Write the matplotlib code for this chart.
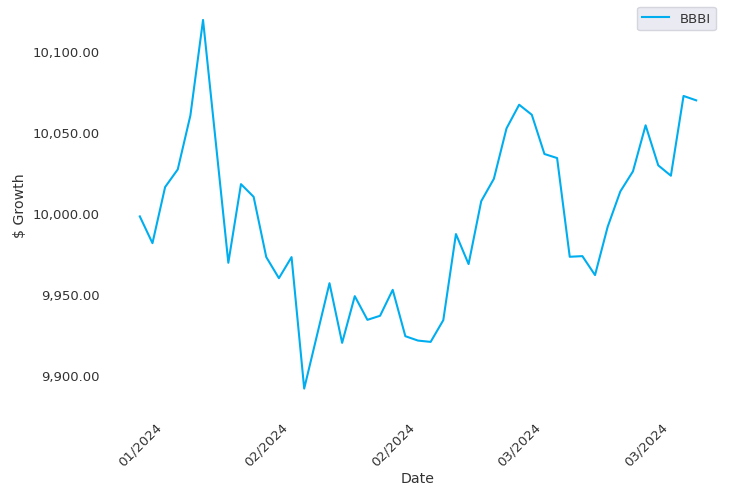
import matplotlib
matplotlib.use('Agg')
import matplotlib.pyplot as plt
import pandas as pd
from matplotlib.ticker import FuncFormatter

# trading days, Presidents Day dropped
dates = [d for d in pd.bdate_range('2024-01-18', '2024-03-21') if d != pd.Timestamp('2024-02-19')]

bbbi = [9998.0, 9981.5, 10016.1, 10027.0, 10060.3, 10119.2, 10044.3, 9969.4, 10017.9, 10010.1,
        9972.9, 9959.9, 9972.9, 9891.8, 9924.3, 9956.8, 9920.0, 9948.8, 9934.2, 9936.7,
        9952.7, 9924.1, 9921.4, 9920.6, 9934.0, 9987.1, 9968.6, 10007.4, 10021.2, 10052.3,
        10066.9, 10060.7, 10036.5, 10034.0, 9973.1, 9973.5, 9961.8, 9991.6, 10013.4, 10025.8,
        10054.2, 10029.5, 10023.1, 10072.3, 10069.6]

label_every = 10
text_color = '#333333'

fig = plt.figure(figsize=(7.29, 4.85), dpi=100)
ax = fig.add_axes([112 / 729, 77 / 485, 612 / 729, 405.5 / 485])

x = list(range(len(bbbi)))
ax.plot(x, bbbi, color='#00AEEF', linewidth=1.5, label='BBBI')

ticks = x[::label_every]
ax.set_xticks(ticks)
ax.set_xticklabels([dates[i].strftime('%m/%Y') for i in ticks], rotation=45)
ax.yaxis.set_major_formatter(FuncFormatter(lambda v, p: f'{v:,.2f}'))

for s in ax.spines.values():
    s.set_visible(False)
ax.tick_params(axis='x', length=0, pad=9.1, labelsize=9.5, labelcolor=text_color)
ax.tick_params(axis='y', length=0, pad=8.6, labelsize=9.5, labelcolor=text_color)

ax.set_xlabel('Date', fontsize=10.2, color=text_color, labelpad=2)
ax.set_ylabel('$ Growth', fontsize=10.2, color=text_color, labelpad=4)

leg = ax.legend(loc='upper right', bbox_to_anchor=(1 - 3 / 612, 1), fontsize=9.5,
                fancybox=True, facecolor='#EAEAF2', edgecolor='#D5D5DD',
                framealpha=1, borderaxespad=0.4)
for t in leg.get_texts():
    t.set_color(text_color)

fig.savefig('out.png', dpi=100)
